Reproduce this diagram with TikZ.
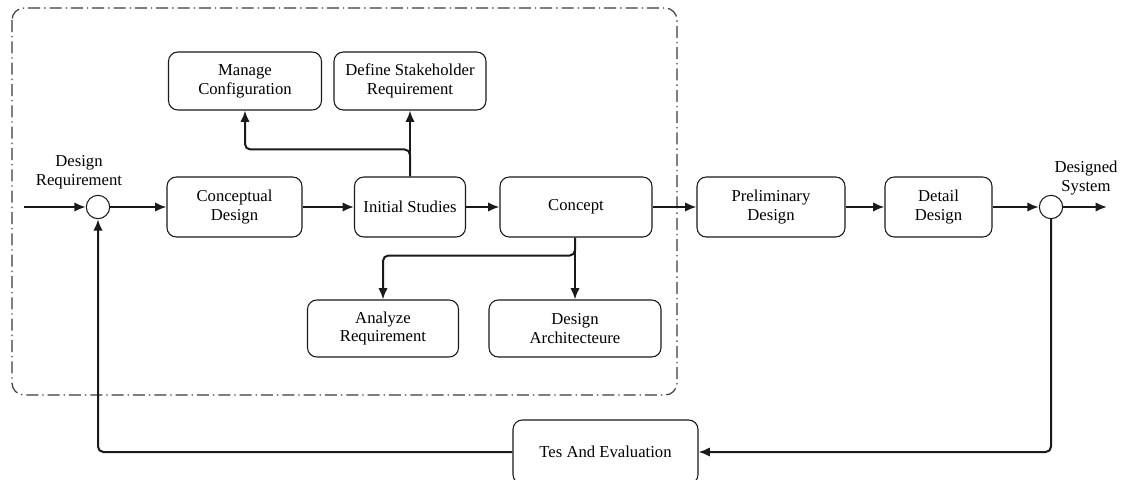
\documentclass[tikz,border=0pt]{standalone}
\usepackage{fontspec}
\setmainfont{Liberation Serif}
\usepackage{tikz}
\usetikzlibrary{arrows.meta,positioning,calc}
\definecolor{cLine}{HTML}{1A1A1A}
\definecolor{cFrame}{HTML}{3A3A3A}
\tikzset{
  blk/.style  ={draw=cLine,fill=white,rounded corners=7pt,align=center,
                line width=0.8pt,inner sep=2pt,font=\fontsize{12.5pt}{14.2pt}\selectfont},
  sumpt/.style={circle,draw=cLine,fill=white,line width=0.8pt,minimum size=17.5pt,inner sep=0pt},
  grp/.style  ={draw=cFrame,line width=0.9pt,rounded corners=9pt,
                dash pattern=on 9pt off 3pt on 1pt off 3pt},
  lbl/.style  ={align=center,font=\fontsize{12.5pt}{14.2pt}\selectfont,inner sep=0pt},
  sig/.style  ={-{Latex[length=8.5pt,width=7pt]},draw=cLine,line width=1.5pt,rounded corners=4pt},
}
\begin{document}
\begin{tikzpicture}[x=0.75pt,y=-0.75pt]
\useasboundingbox (0,0) rectangle (1137,479);

% ===== dash-dot frame round the concept phase ==============================
\draw[grp] (12,8) rectangle (677,395);

% ===== main row ============================================================
\node[sumpt] (sumin) at (98,207) {};
\node[blk,minimum width=101.25pt,minimum height=45pt] (concep) at (234.5,207) {Conceptual\\Design};
\node[blk,minimum width=83.25pt,minimum height=45pt] (init) at (410,207) {Initial Studies};
\node[blk,minimum width=114pt,minimum height=45pt] (concept) at (576,207) {Concept};
\node[blk,minimum width=111pt,minimum height=45pt] (prelim) at (771,207) {Preliminary\\Design};
\node[blk,minimum width=80.25pt,minimum height=45pt] (detail) at (938.5,207) {Detail\\Design};
\node[sumpt] (sumout) at (1051,207) {};
\coordinate (start) at (24,207);
\coordinate (finish) at (1107,207);

\node[lbl] (reqlbl) at (79,172) {Design\\Requirement};
\node[lbl] (syslbl) at (1086,178) {Designed\\System};

% ===== upper and lower sub-tasks ===========================================
\node[blk,minimum width=114.75pt,minimum height=43.5pt] (manage) at (245,81) {Manage\\Configuration};
\node[blk,minimum width=114pt,minimum height=43.5pt] (define) at (410,81) {Define Stakeholder\\Requirement};
\node[blk,minimum width=113.25pt,minimum height=42.75pt] (analyze) at (383,328.5) {Analyze\\Requirement};
\node[blk,minimum width=129pt,minimum height=42.75pt] (arch) at (575,328.5) {Design\\Architecteure};

% ===== feedback ============================================================
\node[blk,minimum width=138.75pt,minimum height=48pt] (tes) at (605.5,452) {Tes And Evaluation};

% ===== connectors ==========================================================
\draw[sig] (start) -- (sumin.west);
\draw[sig] (sumin.east) -- (concep.west);
\draw[sig] (concep.east) -- (init.west);
\draw[sig] (init.east) -- (concept.west);
\draw[sig] (concept.east) -- (prelim.west);
\draw[sig] (prelim.east) -- (detail.west);
\draw[sig] (detail.east) -- (sumout.west);
\draw[sig] (sumout.east) -- (finish);

\draw[sig] (init.north) -- (define.south);
\draw[sig] (init.north) -- ++(0,-27) -| (manage.south);
\draw[sig] (concept.south -| arch.north) -- (arch.north);
\draw[sig] (concept.south -| arch.north) -- ++(0,18) -| (analyze.north);

\draw[sig] (sumout.south) |- (tes.east);
\draw[sig] (tes.west) -| (sumin.south);
\end{tikzpicture}
\end{document}
